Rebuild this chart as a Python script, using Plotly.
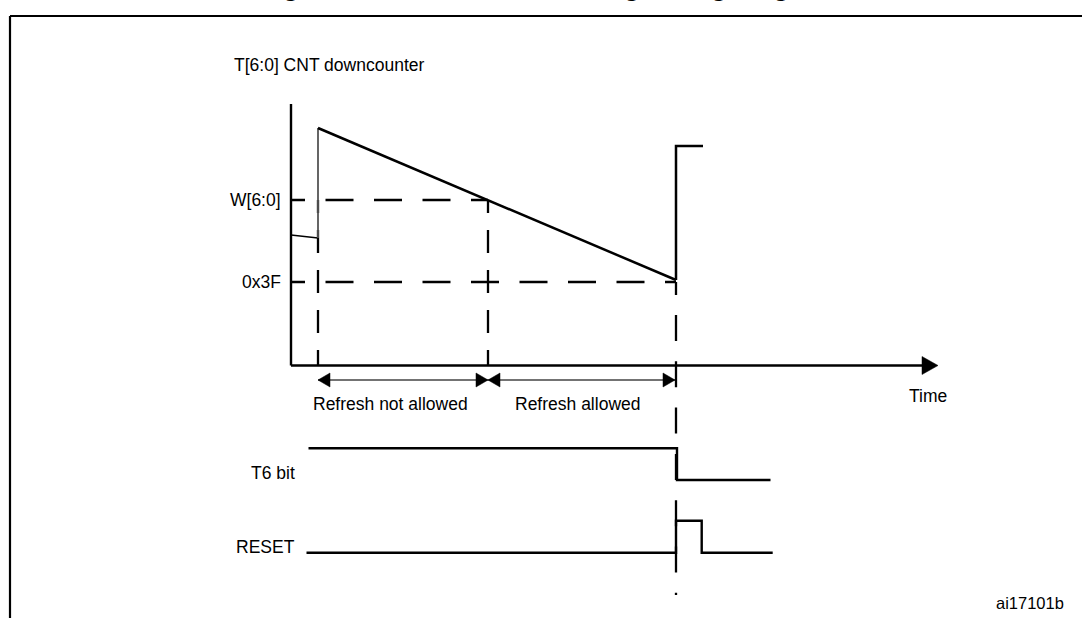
import plotly.graph_objects as go

# ---------------- data (schematic values in the figure's drawing frame) ----------------
# time instants
t_axis0 = 291          # origin of the time axis
t_load = 318           # counter loaded
t_window = 488         # counter reaches W[6:0]
t_reset = 676          # counter reaches 0x3F -> reset
t_axis_end = 922       # end of time axis shaft
t_axis_tip = 938

# counter levels
lvl_axis_top = 104
lvl_time_axis = 365.5
lvl_names = ["W[6:0]", "0x3F"]
lvl_values = [200, 282]
lvl_ends = [t_window, t_reset]

# counter waveform pieces
cnt_stub_t = [291, 318]
cnt_stub_v = [235, 238]
cnt_jump_t = [318, 318]
cnt_jump_v = [238, 128]
cnt_ramp_t = [318, 676]
cnt_ramp_v = [128, 280]
cnt_reload_t = [676, 676, 703]
cnt_reload_v = [280, 146, 146]

# T6 bit and RESET waveforms
t6_t = [308.5, 677, 677, 770.5]
t6_v = [448.3, 448.3, 480, 480]
reset_t = [306.5, 676, 676, 701.7, 701.7, 772.7]
reset_v = [552.7, 552.7, 520.7, 520.7, 552.7, 552.7]

# refresh-interval arrows
arrow_row = 380
refresh_labels = ["Refresh not allowed", "Refresh allowed"]
refresh_centers = [390, 577]

# frame
frame_left = 10
frame_top = 16

FONT = "Liberation Sans, Arial, Helvetica, sans-serif"
BLACK = "#000000"
LABEL_SIZE = 17.5

fig = go.Figure()


def line(xs, ys, width=2.3, color=BLACK, dash="solid"):
    fig.add_trace(go.Scatter(x=xs, y=ys, mode="lines",
                             line=dict(color=color, width=width, dash=dash),
                             hoverinfo="skip", showlegend=False))


def tri(xs, ys):
    fig.add_trace(go.Scatter(x=xs, y=ys, mode="lines", fill="toself",
                             fillcolor=BLACK, line=dict(color=BLACK, width=0.5),
                             hoverinfo="skip", showlegend=False))


# frame
line([frame_left, frame_left], [618, frame_top], width=2.2)
line([frame_left, 1082], [frame_top, frame_top], width=2.2)

# axes
line([t_axis0, t_axis0], [lvl_axis_top, lvl_time_axis], width=2.4)
line([t_axis0, t_axis_end], [lvl_time_axis, lvl_time_axis], width=2.4)
tri([t_axis_end, t_axis_tip, t_axis_end, t_axis_end],
    [lvl_time_axis - 9, lvl_time_axis, lvl_time_axis + 9, lvl_time_axis - 9])

# horizontal dashed levels
hdash = "14px,20.5px" + ",28px,20.5px" * 9
for v, e in zip(lvl_values, lvl_ends):
    line([t_axis0, e], [v, v], width=2.3, dash=hdash)

# vertical dashed markers
vdash_a = "13px,17px" + ",23px,17px" * 6
line([t_load, t_load], [lvl_values[0], lvl_time_axis], width=2.3, dash=vdash_a)
line([t_window, t_window], [lvl_values[0], lvl_time_axis], width=2.3, dash=vdash_a)
vdash_b = "13px,20px" + ",26px,20.3px" * 8
line([t_reset, t_reset], [lvl_values[1], 595], width=2.3, dash=vdash_b)

# counter waveform
line(cnt_stub_t, cnt_stub_v, width=1.4)
line(cnt_jump_t, cnt_jump_v, width=1.8, color="#555555")
line(cnt_ramp_t, cnt_ramp_v, width=2.5)
line(cnt_reload_t, cnt_reload_v, width=2.5)

# refresh arrows
line([t_load, t_reset - 1], [arrow_row, arrow_row], width=1.5, color="#444444")
ah, al = 7, 12
tri([t_load, t_load + al, t_load + al, t_load],
    [arrow_row, arrow_row - ah, arrow_row + ah, arrow_row])
tri([t_window, t_window - al, t_window - al, t_window],
    [arrow_row, arrow_row - ah, arrow_row + ah, arrow_row])
tri([t_window, t_window + al, t_window + al, t_window],
    [arrow_row, arrow_row - ah, arrow_row + ah, arrow_row])
tri([t_reset - 1, t_reset - 1 - al, t_reset - 1 - al, t_reset - 1],
    [arrow_row, arrow_row - ah, arrow_row + ah, arrow_row])

# T6 bit and RESET
line(t6_t, t6_v, width=2.4)
line(reset_t, reset_v, width=2.4)


# ---------------- text ----------------
def label(text, x, y, xanchor="center", size=LABEL_SIZE):
    fig.add_annotation(x=x, y=y, xref="x", yref="y", text=text,
                       showarrow=False, xanchor=xanchor, yanchor="middle",
                       font=dict(family=FONT, size=size, color=BLACK))


label("T[6:0] CNT downcounter", 231.5, 64.5, xanchor="left")
for name, v in zip(lvl_names, lvl_values):
    label(name, 283, v, xanchor="right")
label("Time", 928, 396)
for txt, cx in zip(refresh_labels, refresh_centers):
    label(txt, cx, 404.3)
label("T6 bit", 297, 472.7, xanchor="right")
label("RESET", 297, 546.7, xanchor="right")
label("ai17101b", 1030, 603, size=16.5)

# page title (sits above the visible area; only its descenders show)
fig.add_annotation(x=257, y=4.1, xref="x", yref="y",
                   text="<b>Figure 214. Window watchdog timing diagram</b>",
                   showarrow=False, xanchor="left", yanchor="bottom",
                   font=dict(family=FONT, size=26.6, color=BLACK))

fig.update_layout(
    width=1082, height=618,
    margin=dict(l=0, r=0, t=0, b=0),
    paper_bgcolor="white", plot_bgcolor="white",
    xaxis=dict(range=[0, 1082], visible=False, fixedrange=True),
    yaxis=dict(range=[618, 0], visible=False, fixedrange=True),
    showlegend=False,
)

fig.write_html("out.html", config={"displayModeBar": False},
               post_script="document.body.style.margin='0';")
